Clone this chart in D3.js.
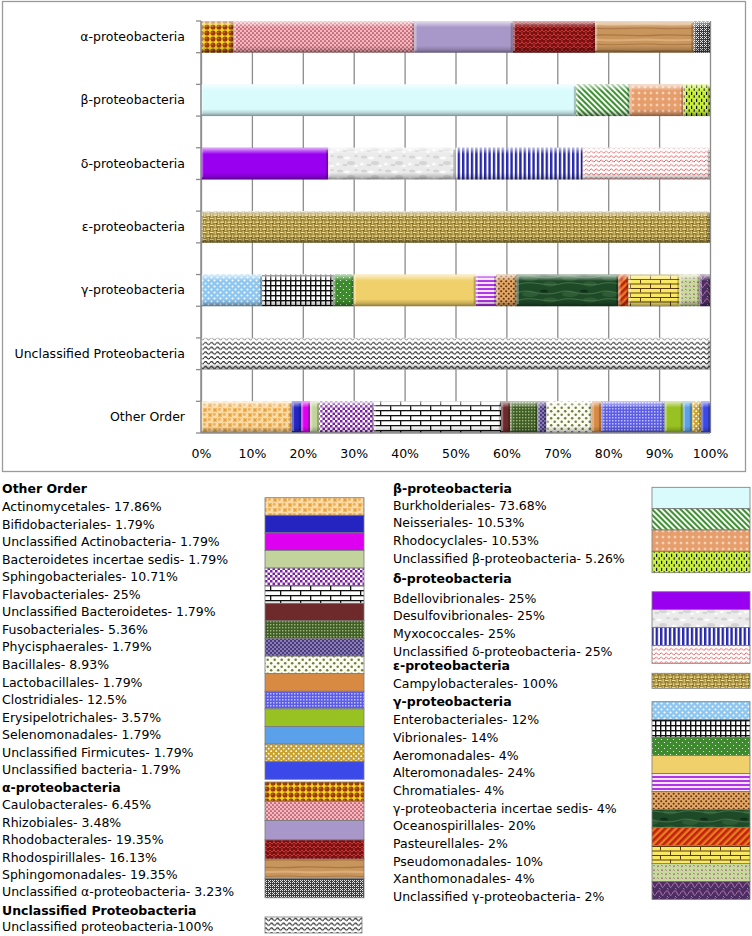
<!DOCTYPE html>
<html><head><meta charset="utf-8">
<script src="https://cdn.jsdelivr.net/npm/d3@7"></script>
<style>body{margin:0;background:#fff}svg{display:block;font-family:"DejaVu Sans",Verdana,sans-serif}</style>
</head><body>
<script>
// ---------------- DATA ----------------
const categories = ["α-proteobacteria","β-proteobacteria","δ-proteobacteria","ε-proteobacteria","γ-proteobacteria","Unclassified Proteobacteria","Other Order"];

const alphaOrders = ["Caulobacterales","Rhizobiales","Rhodobacterales","Rhodospirillales","Sphingomonadales","Unclassified α-proteobacteria"];
const alphaValues = [6.45,35.48,19.35,16.13,19.35,3.23];
const alphaLegend = ["Caulobacterales- 6.45%","Rhizobiales- 3.48%","Rhodobacterales- 19.35%","Rhodospirillales- 16.13%","Sphingomonadales- 19.35%","Unclassified α-proteobacteria- 3.23%"];

const betaOrders = ["Burkholderiales","Neisseriales","Rhodocyclales","Unclassified β-proteobacteria"];
const betaValues = [73.68,10.53,10.53,5.26];
const betaLegend = ["Burkholderiales- 73.68%","Neisseriales- 10.53%","Rhodocyclales- 10.53%","Unclassified β-proteobacteria- 5.26%"];

const deltaOrders = ["Bdellovibrionales","Desulfovibrionales","Myxococcales","Unclassified δ-proteobacteria"];
const deltaValues = [25,25,25,25];
const deltaLegend = ["Bdellovibrionales- 25%","Desulfovibrionales- 25%","Myxococcales- 25%","Unclassified δ-proteobacteria- 25%"];

const epsilonOrders = ["Campylobacterales"];
const epsilonValues = [100];
const epsilonLegend = ["Campylobacterales- 100%"];

const gammaOrders = ["Enterobacteriales","Vibrionales","Aeromonadales","Alteromonadales","Chromatiales","γ-proteobacteria incertae sedis","Oceanospirillales","Pasteurellales","Pseudomonadales","Xanthomonadales","Unclassified γ-proteobacteria"];
const gammaValues = [12,14,4,24,4,4,20,2,10,4,2];
const gammaLegend = ["Enterobacteriales- 12%","Vibrionales- 14%","Aeromonadales- 4%","Alteromonadales- 24%","Chromatiales- 4%","γ-proteobacteria incertae sedis- 4%","Oceanospirillales- 20%","Pasteurellales- 2%","Pseudomonadales- 10%","Xanthomonadales- 4%","Unclassified γ-proteobacteria- 2%"];

const unclOrders = ["Unclassified proteobacteria"];
const unclValues = [100];
const unclLegend = ["Unclassified proteobacteria-100%"];

const otherOrders = ["Actinomycetales","Bifidobacteriales","Unclassified Actinobacteria","Bacteroidetes incertae sedis","Sphingobacteriales","Flavobacteriales","Unclassified Bacteroidetes","Fusobacteriales","Phycisphaerales","Bacillales","Lactobacillales","Clostridiales","Erysipelotrichales","Selenomonadales","Unclassified Firmicutes","Unclassified bacteria"];
const otherValues = [17.86,1.79,1.79,1.79,10.71,25,1.79,5.36,1.79,8.93,1.79,12.5,3.57,1.79,1.79,1.79];
const otherLegend = ["Actinomycetales- 17.86%","Bifidobacteriales- 1.79%","Unclassified Actinobacteria- 1.79%","Bacteroidetes incertae sedis- 1.79%","Sphingobacteriales- 10.71%","Flavobacteriales- 25%","Unclassified Bacteroidetes- 1.79%","Fusobacteriales- 5.36%","Phycisphaerales- 1.79%","Bacillales- 8.93%","Lactobacillales- 1.79%","Clostridiales- 12.5%","Erysipelotrichales- 3.57%","Selenomonadales- 1.79%","Unclassified Firmicutes- 1.79%","Unclassified bacteria- 1.79%"];

const xTicks = [0,10,20,30,40,50,60,70,80,90,100];
const xTickLabels = ["0%","10%","20%","30%","40%","50%","60%","70%","80%","90%","100%"];

const orderLists = [alphaOrders,betaOrders,deltaOrders,epsilonOrders,gammaOrders,unclOrders,otherOrders];
const valueLists = [alphaValues,betaValues,deltaValues,epsilonValues,gammaValues,unclValues,otherValues];

// ---------------- STYLES (fills) ----------------
const svg = d3.select("body").append("svg").attr("width",752).attr("height",936);
svg.append("rect").attr("width",752).attr("height",936).attr("fill","#fff");
const defs = svg.append("defs");

function dots(p,pts,r,fill){pts.forEach(([cx,cy])=>p.append("circle").attr("cx",cx).attr("cy",cy).attr("r",r).attr("fill",fill));}
function rects(p,list,fill,op){list.forEach(([x,y,w,h])=>p.append("rect").attr("x",x).attr("y",y).attr("width",w).attr("height",h).attr("fill",fill).attr("opacity",op==null?1:op));}
function paths(p,ds,stroke,sw,op){ds.forEach(d=>p.append("path").attr("d",d).attr("fill","none").attr("stroke",stroke).attr("stroke-width",sw).attr("opacity",op==null?1:op));}
function blobs(p,list,fill,op){list.forEach(([cx,cy,rx,ry])=>p.append("ellipse").attr("cx",cx).attr("cy",cy).attr("rx",rx).attr("ry",ry).attr("fill",fill).attr("opacity",op==null?1:op));}

const fillStyles = {
 "Caulobacterales":{w:6,h:6,bg:"#f3d41c",draw:p=>{dots(p,[[3,3]],2.55,"#9b3a0b");dots(p,[[2.2,2.2]],0.8,"#c8702a");}},
 "Rhizobiales":{w:4,h:4,bg:"#f4b9ba",draw:p=>dots(p,[[1,1],[3,3]],0.85,"#a6284f")},
 "Rhodobacterales":{solid:"#a898c9"},
 "Rhodospirillales":{w:8,h:8,bg:"#7c1111",draw:p=>paths(p,["M0,4 l2,-2 l2,2 l2,-2 l2,2","M0,8 l2,-2 l2,2 l2,-2 l2,2","M2,0 l0,2 M6,4 l0,2"],"#c63838",1)},
 "Sphingomonadales":{w:60,h:16,bg:"#c8955d",draw:p=>{paths(p,["M0,3 C15,2 30,5 60,3"],"#a46f3c",1.3,0.8);paths(p,["M0,8 C20,9.5 40,6.5 60,8"],"#deb07a",2.2,0.9);paths(p,["M0,12.5 C15,13.5 45,11 60,12.5"],"#9e6c38",0.9,0.8);}},
 "Unclassified α-proteobacteria":{w:4,h:4,bg:"#3c3c3c",draw:p=>rects(p,[[0,0,1,1],[2,2,1,1],[2,0,1,1],[0,2,1,1],[1,1,1,1]],"#e8e8e8")},

 "Burkholderiales":{solid:"#d9fbfc"},
 "Neisseriales":{w:4,h:4,bg:"#ffffff",tr:"rotate(-45)",draw:p=>rects(p,[[0,0,2.1,4]],"#3f8f33")},
 "Rhodocyclales":{w:6,h:6,bg:"#e69e6d",draw:p=>{rects(p,[[2.6,1.6,0.8,2.8],[1.6,2.6,2.8,0.8]],"#fff4ea",0.9);}},
 "Unclassified β-proteobacteria":{w:5,h:7,bg:"#c9f03e",draw:p=>rects(p,[[1,0.8,1.2,3.2],[3.6,4.3,1.2,2.4]],"#111")},

 "Bdellovibrionales":{solid:"#9a00f0"},
 "Desulfovibrionales":{w:24,h:14,bg:"#ebebeb",draw:p=>{blobs(p,[[4,3,3,1.5],[15,9,4,2],[20,2,2,1],[9,11,2.5,1.2]],"#cfcfcf",0.8);blobs(p,[[11,4,3,1.5],[2,10,2,1.5],[20,12,2,1]],"#fbfbfb");}},
 "Myxococcales":{w:4.4,h:4,bg:"#ffffff",draw:p=>rects(p,[[0,0,2.4,4]],"#2727a9")},
 "Unclassified δ-proteobacteria":{w:5,h:4.4,bg:"#ffffff",draw:p=>paths(p,["M0,2.6 Q1.25,0.4 2.5,2.6 T5,2.6"],"#d83232",0.8)},

 "Campylobacterales":{w:7,h:7,bg:"#9f8636",draw:p=>{rects(p,[[0,1,3.6,1.4],[3.5,4.5,3.5,1.4]],"#efe09a");rects(p,[[4.6,0,1.3,3.5],[1,3.5,1.3,3.5]],"#d9c577");rects(p,[[0,2.4,3,0.8],[5.9,5.9,1.1,1.1]],"#5c4a16",0.8);}},

 "Enterobacteriales":{w:6,h:6,bg:"#8ec6ef",draw:p=>dots(p,[[1.5,1.5],[4.5,4.5]],1.05,"#ffffff")},
 "Vibrionales":{w:5,h:5,bg:"#ffffff",draw:p=>rects(p,[[0,0,5,1.4],[0,0,1.4,5]],"#111")},
 "Aeromonadales":{w:6,h:6,bg:"#3d8b2c",draw:p=>dots(p,[[1.5,1.5],[4.5,4.5]],0.6,"#ffffff")},
 "Alteromonadales":{solid:"#f0d06a"},
 "Chromatiales":{w:4,h:4,bg:"#f6e4ff",draw:p=>rects(p,[[0,0,4,2]],"#b334e6")},
 "γ-proteobacteria incertae sedis":{w:5,h:5,bg:"#e2a866",draw:p=>dots(p,[[1.2,1.2],[3.7,3.7]],1.05,"#6b3410")},
 "Oceanospirillales":{w:40,h:16,bg:"#1f4a28",draw:p=>{blobs(p,[[10,6,8,3],[30,12,7,2.5]],"#2f5e36",0.9);paths(p,["M0,4 C10,0 20,10 40,4","M0,12 C12,8 25,15 40,12"],"#4b7b4e",1,0.8);blobs(p,[[24,3,4,1.5]],"#10301a");}},
 "Pasteurellales":{w:5,h:5,bg:"#e47f1e",tr:"rotate(45)",draw:p=>rects(p,[[0,0,2.6,5]],"#c41f0d")},
 "Pseudomonadales":{w:20,h:9,bg:"#f8e862",draw:p=>rects(p,[[0,0,20,1],[0,4.5,20,1],[0,0,1,4.5],[10,4.5,1,4.5]],"#5a3c12")},
 "Xanthomonadales":{w:8,h:8,bg:"#c6da99",draw:p=>paths(p,["M1,2.5 q1,-1.4 2,0","M5,6.5 q1,-1.4 2,0","M5.5,1 l0.8,1.2","M1.5,5.5 l0.8,1.2"],"#9a3a82",0.9)},
 "Unclassified γ-proteobacteria":{w:8,h:8,bg:"#4b2f62",draw:p=>paths(p,["M0,6 C2,2 4,2 5,5 S7,8 8,6","M3,0 l1.5,1.5"],"#d37ab5",0.9)},

 "Unclassified proteobacteria":{w:6,h:4.8,bg:"#ffffff",draw:p=>paths(p,["M0,2.7 Q1.5,0.5 3,2.7 T6,2.7"],"#111",1.05)},

 "Actinomycetales":{w:10,h:10,bg:"#e79f3b",draw:p=>{dots(p,[[5,5],[0,0],[10,0],[0,10],[10,10]],3.5,"#fcdca6");dots(p,[[4.3,4.3],[-0.7,-0.7],[9.3,-0.7],[-0.7,9.3],[9.3,9.3]],1.6,"#efb462");}},
 "Bifidobacteriales":{solid:"#2424c1"},
 "Unclassified Actinobacteria":{solid:"#de00f0"},
 "Bacteroidetes incertae sedis":{solid:"#c2d39b"},
 "Sphingobacteriales":{w:5,h:5,bg:"#ffffff",draw:p=>rects(p,[[0,0,2.5,2.5],[2.5,2.5,2.5,2.5]],"#7b1fa1")},
 "Flavobacteriales":{w:20,h:10,bg:"#ffffff",draw:p=>rects(p,[[0,0,20,1.3],[0,5,20,1.3],[0,0,1.3,5],[10,5,1.3,5]],"#111")},
 "Unclassified Bacteroidetes":{solid:"#6e2a2b"},
 "Fusobacteriales":{w:3,h:3,bg:"#405e28",draw:p=>rects(p,[[0,0,1.4,1.4]],"#a2b878")},
 "Phycisphaerales":{w:4,h:4,bg:"#4a3a83",draw:p=>dots(p,[[1,1],[3,3]],0.65,"#ffffff")},
 "Bacillales":{w:7,h:7,bg:"#fbfbf2",draw:p=>dots(p,[[1.7,1.7],[5.2,5.2]],1.25,"#6f7f3c")},
 "Lactobacillales":{solid:"#d88a42"},
 "Clostridiales":{w:3,h:3,bg:"#5c5de6",draw:p=>rects(p,[[0,0,1.5,1.5]],"#c0c0f8")},
 "Erysipelotrichales":{solid:"#98c122"},
 "Selenomonadales":{solid:"#5aa1e9"},
 "Unclassified Firmicutes":{w:5,h:5,bg:"#c9a12d",draw:p=>dots(p,[[1.2,1.2],[3.7,3.7]],0.9,"#ffffff")},
 "Unclassified bacteria":{solid:"#3a49e8"}
};

const fillFor = {};
let pid = 0;
Object.keys(fillStyles).forEach(name=>{
  const s = fillStyles[name];
  if (s.solid){ fillFor[name] = s.solid; return; }
  const id = "pat"+(pid++);
  const p = defs.append("pattern").attr("id",id).attr("patternUnits","userSpaceOnUse").attr("width",s.w).attr("height",s.h);
  if (s.tr) p.attr("patternTransform",s.tr);
  p.append("rect").attr("width",s.w).attr("height",s.h).attr("fill",s.bg);
  s.draw(p);
  fillFor[name] = "url(#"+id+")";
});

// bevel gradient
const bev = defs.append("linearGradient").attr("id","bevel").attr("x1",0).attr("y1",0).attr("x2",0).attr("y2",1);
[[0,"#fff",0.7],[0.1,"#fff",0.35],[0.2,"#fff",0],[0.78,"#000",0],[0.9,"#000",0.16],[1,"#000",0.42]].forEach(([o,c,a])=>bev.append("stop").attr("offset",o).attr("stop-color",c).attr("stop-opacity",a));

// ---------------- CHART ----------------
const x = d3.scaleLinear().domain([0,100]).range([201,710]);
const y = d3.scaleBand().domain(categories).range([21,433]).paddingInner(0.5).paddingOuter(0);
const bw = y.bandwidth();

// frame
svg.append("rect").attr("x",2.5).attr("y",1.5).attr("width",743).attr("height",470).attr("fill","none").attr("stroke","#9a9a9a").attr("stroke-width",1.3);

// gridlines
const grid = svg.append("g").attr("transform","translate(0,21)")
  .call(d3.axisBottom(x).tickValues(xTicks).tickSize(412).tickFormat(""));
grid.select(".domain").remove();
grid.selectAll("line").attr("stroke","#8c8c8c").attr("stroke-width",1.3);

// bars
const rows = categories.map((c,i)=>{
  let acc = 0;
  return orderLists[i].map((o,j)=>{ const s = {cat:c, order:o, x0:acc, x1:acc+valueLists[i][j]}; acc += valueLists[i][j]; return s; });
});
const segs = rows.flat();
const bars = svg.append("g");
const sg = bars.selectAll("g").data(segs).join("g");
const ew = d=>Math.min(2.2,(x(d.x1)-x(d.x0))/3);
sg.append("rect").attr("x",d=>x(d.x0)).attr("y",d=>y(d.cat)).attr("width",d=>x(d.x1)-x(d.x0)).attr("height",bw).attr("fill",d=>fillFor[d.order]);
sg.append("rect").attr("x",d=>x(d.x0)).attr("y",d=>y(d.cat)).attr("width",d=>x(d.x1)-x(d.x0)).attr("height",bw).attr("fill","url(#bevel)");
sg.append("rect").attr("x",d=>x(d.x0)).attr("y",d=>y(d.cat)+2).attr("width",ew).attr("height",bw-4).attr("fill","#fff").attr("opacity",0.32);
sg.append("rect").attr("x",d=>x(d.x1)-ew(d)).attr("y",d=>y(d.cat)+2).attr("width",ew).attr("height",bw-4).attr("fill","#000").attr("opacity",0.22);

// y axis line and ticks
svg.append("line").attr("x1",201).attr("x2",201).attr("y1",21).attr("y2",433).attr("stroke","#8c8c8c").attr("stroke-width",1.5);
svg.append("line").attr("x1",201).attr("x2",710).attr("y1",433).attr("y2",433).attr("stroke","#8c8c8c").attr("stroke-width",1.3);
const edges = categories.flatMap(c=>[y(c),y(c)+bw]);
svg.append("g").selectAll("line").data(edges).join("line").attr("x1",196).attr("x2",201).attr("y1",d=>d).attr("y2",d=>d).attr("stroke","#8c8c8c").attr("stroke-width",1.3);

const ya = svg.append("g").attr("transform","translate(201,0)").call(d3.axisLeft(y).tickSize(0).tickPadding(16));
ya.select(".domain").remove();
ya.selectAll("text").attr("font-size",12.5).attr("font-family","DejaVu Sans").attr("fill","#000");

const xa = svg.append("g").attr("transform","translate(0,433)").call(d3.axisBottom(x).tickValues(xTicks).tickSize(0).tickPadding(16).tickFormat((d,i)=>xTickLabels[i]));
xa.select(".domain").remove();
xa.selectAll("text").attr("font-size",12.5).attr("font-family","DejaVu Sans").attr("fill","#000");

// ---------------- LEGEND ----------------
const lg = svg.append("g").attr("font-size",12.5).attr("fill","#000");
function header(tx,ty,t){ lg.append("text").attr("x",tx).attr("y",ty).attr("dy","0.35em").attr("font-weight","bold").text(t); }
function items(tx,ty0,step,labels){ labels.forEach((t,i)=>lg.append("text").attr("x",tx).attr("y",ty0+i*step).attr("dy","0.35em").text(t)); }
function swatches(sx,sw,top,h,orders){ orders.forEach((o,i)=>lg.append("rect").attr("x",sx).attr("y",top+i*h).attr("width",sw).attr("height",h).attr("fill",fillFor[o]).attr("stroke","#7a7a7a").attr("stroke-width",0.8)); }

// left column
header(2,488.3,"Other Order");
items(2,506.7,17.55,otherLegend);
swatches(265,99,497.7,17.6,otherOrders);
header(2,787.5,"α-proteobacteria");
items(2,805,17.4,alphaLegend);
swatches(265,99,782,19.3,alphaOrders);
header(2,910.7,"Unclassified Proteobacteria");
items(2,927,17.4,unclLegend);
swatches(265,97,917,16,unclOrders);

// right column
header(393,488.3,"β-proteobacteria");
items(393,505.5,17.6,betaLegend);
swatches(652,98,487.3,21.35,betaOrders);
header(393,578.3,"δ-proteobacteria");
items(393,598.3,17.8,deltaLegend);
swatches(652,98,591.7,17.9,deltaOrders);
header(393,666,"ε-proteobacteria");
items(393,683.3,17.6,epsilonLegend);
swatches(652,98,673.3,15,epsilonOrders);
header(393,701.7,"γ-proteobacteria");
items(393,720,17.67,gammaLegend);
swatches(652,98,701.7,17.97,gammaOrders);
</script>
</body></html>
